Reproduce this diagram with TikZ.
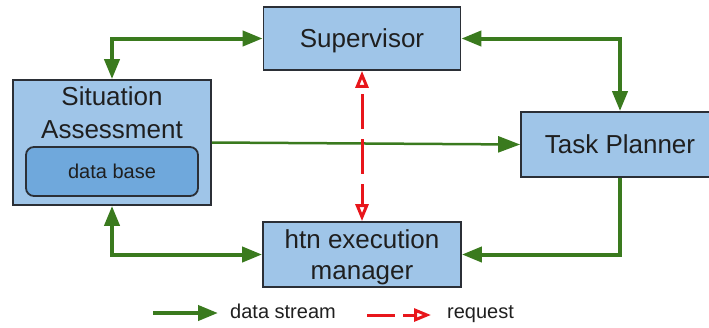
\documentclass[tikz,border=0pt]{standalone}
\usepackage{fontspec}
\setmainfont{Liberation Sans}
\usetikzlibrary{arrows.meta}
\definecolor{boxblue}{HTML}{9FC5E8}
\definecolor{baseblue}{HTML}{6FA8DC}
\definecolor{boxline}{HTML}{2B2F36}
\definecolor{flowgreen}{HTML}{3A7A1E}
\definecolor{reqred}{HTML}{E8161B}
\tikzset{
  box/.style={rectangle, draw=boxline, fill=boxblue, line width=1.8pt, inner sep=0pt, text depth=0pt, align=center, text=black!88, font=\fontsize{26}{30.5}\selectfont},
  basebox/.style={rectangle, rounded corners=8pt, draw=boxline, fill=baseblue, line width=1.8pt, inner sep=0pt, text=black!88, font=\fontsize{20}{24}\selectfont},
  flow/.style={draw=flowgreen, line width=4pt, >={Triangle[length=20pt,width=15pt]}},
  thinflow/.style={draw=flowgreen, line width=2.5pt, >={Triangle[length=22pt,width=16pt]}},
  req/.style={draw=reqred, line width=3pt, dash pattern=on 35pt off 10pt, dash phase=38pt, >={Triangle[open,length=17pt,width=13pt]}},
  legtext/.style={anchor=base west, inner sep=0pt, text=black!88, font=\fontsize{20}{24}\selectfont}
}
\begin{document}
\begin{tikzpicture}[x=1pt,y=-1pt]
\useasboundingbox (0,0) rectangle (709,327);
\node[box, minimum width=197pt, minimum height=63pt] (sup) at (362,38.5) {Supervisor};
\node[box, minimum width=198pt, minimum height=125pt] (sa) at (112,142.5) {};
\node[anchor=north, inner sep=0pt, align=center, text=black!88, font=\fontsize{26}{33}\selectfont] (satext) at (112,86) {Situation\\Assessment};
\node[basebox, minimum width=172pt, minimum height=49pt] (db) at (112,171.5) {data base};
\node[box, minimum width=198pt, minimum height=65pt] (tp) at (620,144.5) {Task Planner};
\node[box, minimum width=198pt, minimum height=65pt] (htn) at (362,254.5) {htn execution\\manager};
\draw[flow, <->] (sa.north) |- (sup.west);
\draw[flow, <->] (sup.east) -| (tp.north);
\draw[thinflow, ->] (sa.east) -- (tp.west);
\draw[flow, <->] (sa.south) |- (htn.west);
\draw[flow, ->] (tp.south) |- (htn.east);
\draw[req, <->] (sup.south) -- (htn.north);
\coordinate (ds0) at (153,313);
\coordinate (ds1) at (218,313);
\coordinate (rq0) at (367,315);
\coordinate (rq1) at (431,315);
\draw[flow, ->] (ds0) -- (ds1);
\draw[req, ->, dash pattern=on 28pt off 8pt, dash phase=0pt] (rq0) -- (rq1);
\node[legtext] (dstext) at (230,318) {data stream};
\node[legtext] (rqtext) at (447,318) {request};
\end{tikzpicture}
\end{document}
